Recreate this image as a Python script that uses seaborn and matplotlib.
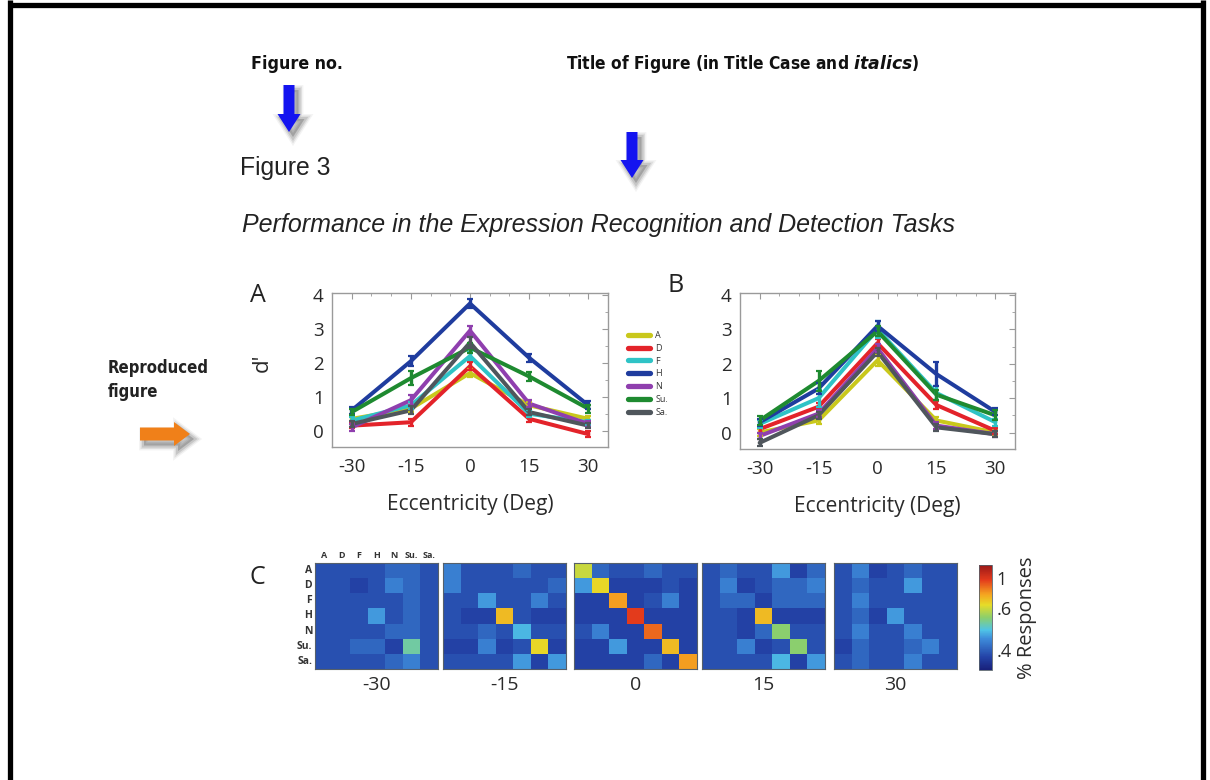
import matplotlib
matplotlib.use("Agg")
import matplotlib.pyplot as plt
import numpy as np
import pandas as pd
import seaborn as sns
from matplotlib.colors import PowerNorm, LinearSegmentedColormap
from matplotlib.patches import FancyArrow
from matplotlib.lines import Line2D
from matplotlib.ticker import AutoMinorLocator

sns.set_theme(style="white")
plt.rcParams["font.family"] = ["Open Sans", "DejaVu Sans"]
plt.rcParams["axes.unicode_minus"] = False
plt.rcParams["mathtext.fontset"] = "custom"
plt.rcParams["mathtext.rm"] = "DejaVu Sans:bold"
plt.rcParams["mathtext.it"] = "DejaVu Sans:italic:bold"

# ---- data ----
ecc = [-30, -15, 0, 15, 30]
expr = ["A", "D", "F", "H", "N", "Su.", "Sa."]
line_colors = ["#c9c81c", "#e3232a", "#2fc3c6", "#1f3c9e", "#8f3fae", "#1e8a30", "#4f565c"]

# panel A: recognition d'
recog_mean = [
    [0.35, 0.65, 1.70, 0.75, 0.35],   # A
    [0.15, 0.25, 1.90, 0.35, -0.10],  # D
    [0.30, 0.75, 2.20, 0.50, 0.25],   # F
    [0.60, 2.05, 3.75, 2.15, 0.75],   # H
    [0.10, 0.90, 2.95, 0.80, 0.20],   # N
    [0.55, 1.55, 2.45, 1.60, 0.65],   # Su.
    [0.20, 0.60, 2.60, 0.55, 0.15],   # Sa.
]
recog_err = [
    [0.08, 0.10, 0.12, 0.10, 0.08],
    [0.08, 0.10, 0.12, 0.10, 0.08],
    [0.10, 0.10, 0.12, 0.10, 0.08],
    [0.10, 0.15, 0.12, 0.12, 0.12],
    [0.10, 0.15, 0.15, 0.10, 0.08],
    [0.10, 0.20, 0.15, 0.12, 0.12],
    [0.08, 0.12, 0.15, 0.10, 0.08],
]

# panel B: detection d'
detect_mean = [
    [0.00, 0.35, 2.10, 0.35, 0.00],
    [0.10, 0.75, 2.60, 0.80, 0.05],
    [0.25, 1.00, 3.00, 1.15, 0.30],
    [0.30, 1.28, 3.10, 1.70, 0.60],
    [-0.10, 0.55, 2.45, 0.20, -0.05],
    [0.35, 1.50, 2.95, 1.10, 0.50],
    [-0.30, 0.50, 2.35, 0.15, -0.05],
]
detect_err = [
    [0.10, 0.10, 0.15, 0.10, 0.10],
    [0.10, 0.10, 0.12, 0.12, 0.08],
    [0.12, 0.25, 0.25, 0.20, 0.10],
    [0.10, 0.15, 0.15, 0.35, 0.10],
    [0.08, 0.10, 0.12, 0.10, 0.08],
    [0.12, 0.30, 0.15, 0.15, 0.15],
    [0.10, 0.10, 0.12, 0.10, 0.08],
]

# panel C: confusion matrices (% responses), rows = shown, cols = answered
conf_m30 = [
    [0.396, 0.396, 0.396, 0.396, 0.403, 0.403, 0.396],
    [0.396, 0.396, 0.393, 0.396, 0.416, 0.403, 0.396],
    [0.396, 0.396, 0.396, 0.396, 0.396, 0.403, 0.396],
    [0.396, 0.396, 0.396, 0.430, 0.396, 0.403, 0.396],
    [0.396, 0.396, 0.396, 0.396, 0.403, 0.403, 0.396],
    [0.396, 0.396, 0.403, 0.403, 0.393, 0.490, 0.396],
    [0.396, 0.396, 0.396, 0.396, 0.403, 0.416, 0.396],
]
conf_m15 = [
    [0.416, 0.396, 0.396, 0.396, 0.403, 0.396, 0.396],
    [0.416, 0.396, 0.396, 0.396, 0.396, 0.396, 0.403],
    [0.396, 0.396, 0.430, 0.396, 0.396, 0.416, 0.396],
    [0.396, 0.393, 0.393, 0.700, 0.396, 0.393, 0.393],
    [0.396, 0.396, 0.403, 0.396, 0.447, 0.396, 0.396],
    [0.393, 0.393, 0.416, 0.393, 0.396, 0.640, 0.393],
    [0.396, 0.396, 0.396, 0.396, 0.430, 0.393, 0.430],
]
conf_0 = [
    [0.590, 0.403, 0.396, 0.396, 0.403, 0.396, 0.396],
    [0.430, 0.640, 0.393, 0.393, 0.393, 0.396, 0.393],
    [0.393, 0.393, 0.760, 0.393, 0.396, 0.416, 0.393],
    [0.393, 0.393, 0.393, 0.960, 0.393, 0.393, 0.393],
    [0.396, 0.416, 0.393, 0.393, 0.860, 0.393, 0.393],
    [0.393, 0.393, 0.430, 0.393, 0.393, 0.700, 0.393],
    [0.393, 0.393, 0.393, 0.393, 0.403, 0.393, 0.760],
]
conf_15 = [
    [0.396, 0.403, 0.396, 0.396, 0.430, 0.393, 0.403],
    [0.396, 0.416, 0.393, 0.396, 0.403, 0.403, 0.416],
    [0.396, 0.403, 0.403, 0.393, 0.403, 0.403, 0.403],
    [0.396, 0.396, 0.393, 0.700, 0.393, 0.393, 0.393],
    [0.396, 0.396, 0.393, 0.403, 0.525, 0.396, 0.396],
    [0.396, 0.396, 0.416, 0.393, 0.396, 0.525, 0.396],
    [0.396, 0.396, 0.396, 0.396, 0.447, 0.393, 0.430],
]
conf_30 = [
    [0.396, 0.416, 0.393, 0.396, 0.403, 0.396, 0.396],
    [0.396, 0.403, 0.396, 0.396, 0.430, 0.396, 0.396],
    [0.396, 0.416, 0.396, 0.396, 0.396, 0.396, 0.396],
    [0.396, 0.403, 0.393, 0.430, 0.396, 0.396, 0.396],
    [0.396, 0.416, 0.396, 0.396, 0.416, 0.396, 0.396],
    [0.393, 0.403, 0.396, 0.396, 0.403, 0.416, 0.396],
    [0.396, 0.403, 0.396, 0.396, 0.416, 0.396, 0.396],
]
conf_mats = [conf_m30, conf_m15, conf_0, conf_15, conf_30]
conf_titles = ["-30", "-15", "0", "15", "30"]
cbar_ticks = [0.4, 0.6, 1.0]
cbar_ticklabels = [".4", ".6", "1"]

# ---- figure ----
W, H = 1210, 780
fig = plt.figure(figsize=(12.1, 7.8), dpi=100)
fig.patch.set_facecolor("white")


def px_axes(left, top, right, bottom):
    return fig.add_axes([left / W, 1 - bottom / H, (right - left) / W, (bottom - top) / H])


# overlay for page decorations (frame, arrows, header text)
deco = fig.add_axes([0, 0, 1, 1], zorder=-1)
deco.set_xlim(0, W)
deco.set_ylim(H, 0)
deco.axis("off")

deco.plot([9.5, 9.5], [0, H], color="black", lw=3.8, solid_capstyle="butt")
deco.plot([1203, 1203], [0, H], color="black", lw=3.8, solid_capstyle="butt")
deco.plot([8, 1205], [4.5, 4.5], color="black", lw=3.8, solid_capstyle="butt")


def arrow(x, y, dx, dy, color, w=11, hw=23, hl=18):
    # soft drop shadow, then the arrow itself
    for k, a in [(7, 0.08), (5, 0.14), (3, 0.2)]:
        deco.add_patch(FancyArrow(x + 4, y + 5, dx, dy, width=w, head_width=hw,
                                  head_length=hl, length_includes_head=True,
                                  color="#666666", alpha=a, lw=k))
    deco.add_patch(FancyArrow(x, y, dx, dy, width=w, head_width=hw, head_length=hl,
                              length_includes_head=True, color=color, lw=0))


arrow(289, 85, 0, 47, "#1414f0")
arrow(632, 132, 0, 46, "#1414f0")
arrow(140, 434, 50, 0, "#f08019", w=13, hw=24, hl=16)

deco.text(297, 64, "Figure no.", ha="center", va="center", fontsize=12.8,
          fontweight="bold", family="DejaVu Sans", fontstretch="condensed", color="#111")
deco.text(743, 64, r"Title of Figure (in Title Case and $\mathit{italics}$)", ha="center",
          va="center", fontsize=12.4, fontweight="bold", family="DejaVu Sans",
          fontstretch="condensed", color="#111")
deco.text(240, 168, "Figure 3", ha="left", va="center", fontsize=17.8,
          family="Liberation Sans", color="#222")
deco.text(242, 225, "Performance in the Expression Recognition and Detection Tasks",
          ha="left", va="center", fontsize=18, family="Liberation Sans",
          style="italic", color="#222")
deco.text(108, 368, "Reproduced", ha="left", va="center", fontsize=12,
          fontweight="bold", family="DejaVu Sans", fontstretch="condensed", color="#222")
deco.text(108, 392, "figure", ha="left", va="center", fontsize=12,
          fontweight="bold", family="DejaVu Sans", fontstretch="condensed", color="#222")

deco.text(258, 295, "A", ha="center", va="center", fontsize=18, color="#222")
deco.text(676, 286, "B", ha="center", va="center", fontsize=18, color="#222")
deco.text(257, 577, "C", ha="center", va="center", fontsize=18, color="#222")


# ---- panels A and B ----
def long_form(means):
    rows = []
    for name, vals in zip(expr, means):
        for e, v in zip(ecc, vals):
            rows.append({"ecc": e, "dprime": v, "expr": name})
    return pd.DataFrame(rows)


def draw_lines(ax, means, errs):
    df = long_form(means)
    sns.lineplot(data=df, x="ecc", y="dprime", hue="expr", hue_order=expr,
                 palette=line_colors, linewidth=2.9, estimator=None,
                 legend=False, ax=ax)
    for c, m, e in zip(line_colors, means, errs):
        ax.errorbar(ecc, m, yerr=e, fmt="none", ecolor=c, elinewidth=2.4, capsize=2.5,
                    capthick=1.6)
    ax.set_xlim(-35, 35)
    ax.set_ylim(-0.48, 4.06)
    ax.set_xticks(ecc)
    ax.set_yticks([0, 1, 2, 3, 4])
    ax.xaxis.set_minor_locator(AutoMinorLocator(3))
    ax.yaxis.set_minor_locator(AutoMinorLocator(2))
    ax.tick_params(which="both", direction="in", top=True, right=True,
                   colors="#9a9a9a", labelcolor="#2a2a2a", labelsize=13.5)
    ax.tick_params(which="major", length=4, width=0.8)
    ax.tick_params(which="minor", length=2, width=0.6)
    ax.tick_params(axis="x", pad=8)
    ax.tick_params(axis="y", pad=6)
    for sp in ax.spines.values():
        sp.set_color("#9a9a9a")
        sp.set_linewidth(1.0)
    ax.set_xlabel("Eccentricity (Deg)", fontsize=15, color="#2a2a2a", labelpad=13)
    ax.set_ylabel("")
    ax.set_facecolor("white")


ax_a = px_axes(332, 293, 608, 447)
draw_lines(ax_a, recog_mean, recog_err)
ax_a.set_ylabel("d'", fontsize=16, color="#2a2a2a")
ax_a.yaxis.set_label_coords(-0.215, 0.55)

ax_b = px_axes(740, 293, 1015, 449)
draw_lines(ax_b, detect_mean, detect_err)

handles = [Line2D([0], [0], color=c, lw=3.8) for c in line_colors]
fig.legend(handles, expr, loc="upper left", bbox_to_anchor=(628 / W, 1 - 331 / H),
           frameon=False, fontsize=6.5, handlelength=2.4, handletextpad=0.6,
           labelspacing=0.42, borderpad=0, borderaxespad=0, labelcolor="#333")

# ---- panel C ----
cmap = LinearSegmentedColormap.from_list("faded_jet", [
    (0.00, "#18207a"), (0.12, "#2342a6"), (0.30, "#3e8ddb"), (0.38, "#4fc4e6"),
    (0.50, "#8ccf6c"), (0.62, "#e6dc28"), (0.72, "#f5a520"), (0.86, "#e33a1c"),
    (1.00, "#9a1818")])
norm = PowerNorm(gamma=0.375, vmin=0.39, vmax=1.25)

heat_lefts = [315, 443, 574, 702, 834]
mesh = None
for i, (mat, title) in enumerate(zip(conf_mats, conf_titles)):
    left = heat_lefts[i]
    ax = px_axes(left, 563, left + 123, 669)
    sns.heatmap(pd.DataFrame(mat, index=expr, columns=expr), ax=ax, cmap=cmap,
                norm=norm, cbar=False, xticklabels=(i == 0), yticklabels=(i == 0))
    mesh = ax.collections[0]
    for sp in ax.spines.values():
        sp.set_visible(True)
        sp.set_color("#56606a")
        sp.set_linewidth(0.8)
    if i == 0:
        ax.xaxis.tick_top()
        ax.tick_params(axis="x", length=0, pad=2, labelsize=6.5)
        ax.tick_params(axis="y", length=0, pad=2, labelsize=7.5)
        for t in ax.get_xticklabels() + ax.get_yticklabels():
            t.set_fontweight("bold")
            t.set_color("#333")
        plt.setp(ax.get_yticklabels(), rotation=0)
        plt.setp(ax.get_xticklabels(), rotation=0)
    else:
        ax.set_xticks([])
        ax.set_yticks([])
    ax.xaxis.set_label_position("bottom")
    ax.set_xlabel(title, fontsize=14, color="#2a2a2a", labelpad=5)
    ax.set_ylabel("")

cax = px_axes(979, 565, 992, 670)
cb = fig.colorbar(mesh, cax=cax)
cb.set_ticks(cbar_ticks)
cb.set_ticklabels(cbar_ticklabels)
cb.ax.tick_params(length=0, labelsize=13, pad=3, labelcolor="#2a2a2a")
cb.outline.set_linewidth(0.6)
cb.outline.set_edgecolor("#56606a")
cb.set_label("% Responses", fontsize=14.5, color="#2a2a2a", labelpad=4)

fig.savefig("out.png", dpi=100, facecolor="white")
